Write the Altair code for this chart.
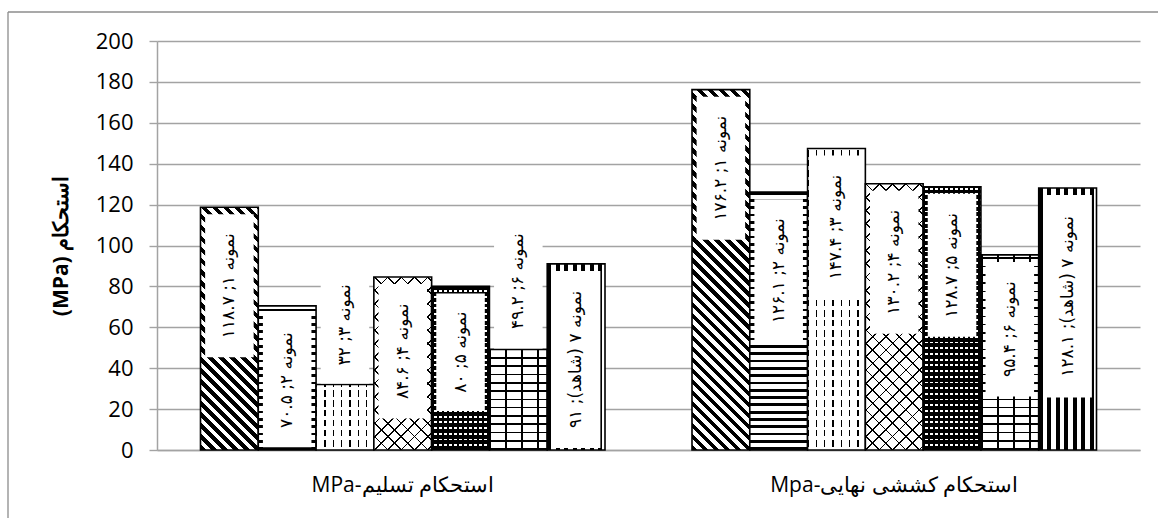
import math
import altair as alt
import pandas as pd

# ---------------- data ----------------
categories = ["استحکام تسلیم-MPa", "استحکام کششی نهایی-Mpa"]
series = ["نمونه ۱", "نمونه ۲", "نمونه ۳", "نمونه ۴", "نمونه ۵", "نمونه ۶", "نمونه ۷ (شاهد)"]
yield_values = [118.7, 70.5, 32, 84.6, 80, 49.2, 91]
ultimate_values = [176.2, 126.1, 147.4, 130.2, 128.7, 95.4, 128.1]
y_ticks = [0, 20, 40, 60, 80, 100, 120, 140, 160, 180, 200]
y_title = "استحکام (MPa)"

# ---------------- geometry / style ----------------
W, H = 983, 409
PAD = {"left": 157, "top": 41, "right": 18, "bottom": 68}
P_IN, P_OUT = 0.177, 0.0885
YMAX = 200
PXU = H / YMAX
STEP = W / (len(categories) - P_IN + 2 * P_OUT)
BAR_W = STEP * (1 - P_IN) / len(series)
GRID = "#a3a3a3"
RLE, PDF = "\u202b", "\u202c"
FA = str.maketrans("0123456789", "۰۱۲۳۴۵۶۷۸۹")


def fa(v):
    return f"{v:g}".translate(FA)


rows = []
for ci, cat in enumerate(categories):
    vals = [yield_values, ultimate_values][ci]
    for si, (s, v) in enumerate(zip(series, vals)):
        label = f"{s}; {fa(v)}"
        box_px = 8.5 * len(label) + 24
        vpx = v * PXU
        if vpx - 7 - box_px >= 0:
            hi = v - 7 / PXU
            lo = hi - box_px / PXU
        else:
            lo = v + 1 / PXU
            hi = lo + box_px / PXU
        rows.append(dict(cat=cat, series=s, sid=si, value=v, key=f"{ci}-{si}",
                         lo=lo, hi=hi, mid=(lo + hi) / 2,
                         disp=RLE + label + PDF, h=vpx))
df = pd.DataFrame(rows)

# pattern definitions per series: (kind, period px, on-fraction, on-colour)
PATTERNS = [
    [("d1", 7.8, 0.5, "black")],
    [("h", 7.3, 0.38, "black")],
    [("v", 8.3, 0.16, "black"), ("h", 10.0, 0.35, "white")],
    [("d1", 9.4, 0.13, "black"), ("d2", 9.4, 0.13, "black")],
    [("h", 5.7, 0.7, "black"), ("v", 5.0, 0.4, "black")],
    [("h", 8.3, 0.2, "black"), ("v", 16.0, 0.1, "black")],
    [("v", 8.5, 0.45, "black")],
]
CLEAR = "rgba(255,255,255,0)"


def stripe_stops(total, period, on, c_on, c_off):
    st = []
    pos = 0.0
    while pos < total - 1e-6:
        b = min(pos + on * period, total)
        c = min(pos + period, total)
        st += [(pos / total, c_on), (b / total, c_on)]
        if b < total:
            st += [(b / total, c_off), (c / total, c_off)]
        pos += period
    return [alt.GradientStop(offset=round(o, 5), color=col) for o, col in st]


def gradient(kind, period, on, c_on, c_off, w, h):
    if kind == "h":
        total, x1, y1, x2, y2 = h, 0, 1, 0, 0
    elif kind == "v":
        total, x1, y1, x2, y2 = w, 0, 0, 1, 0
    else:
        r = h / w
        t = (1 + r) / (1 + r * r)
        total = (w + h) / math.sqrt(2)
        if kind == "d1":
            x1, y1, x2, y2 = 0, 1, t, 1 - r * t
        else:
            x1, y1, x2, y2 = 0, 0, t, r * t
    return alt.LinearGradient(gradient="linear",
                              stops=stripe_stops(total, period, on, c_on, c_off),
                              x1=x1, y1=y1, x2=x2, y2=y2)


x_enc = alt.X("cat:N", sort=categories,
              scale=alt.Scale(paddingInner=P_IN, paddingOuter=P_OUT),
              axis=alt.Axis(title=None, ticks=False, domainColor=GRID, domainWidth=1.5,
                            labelAngle=0, labelFont="Open Sans", labelFontSize=21,
                            labelColor="black", labelPadding=24, labelLimit=600,
                            labelExpr=f"'{RLE}' + datum.label + '{PDF}'"))
xo_enc = alt.XOffset("sid:O", scale=alt.Scale(paddingInner=0, paddingOuter=0))
y_axis = alt.Axis(values=y_ticks, grid=True, gridColor=GRID, gridWidth=1.4,
                  domainColor=GRID, domainWidth=1.5, tickColor=GRID, tickWidth=1.4,
                  tickSize=8, labelFont="Open Sans", labelFontSize=22, labelColor="black",
                  labelPadding=16, title=RLE + y_title + PDF, titleFont="Open Sans",
                  titleFontSize=21, titleFontWeight="bold", titleColor="black",
                  titleX=-96, titleY=H / 2, titleAngle=270, titleAlign="center",
                  titleBaseline="middle", titleLimit=600)
y_scale = alt.Scale(domain=[0, YMAX], nice=False)

base = alt.Chart(df)
layers = []
for _, row in df.iterrows():
    pats = PATTERNS[row["sid"]]
    for pi, (kind, period, on, c_on) in enumerate(pats):
        last = pi == len(pats) - 1
        c_off = "white" if pi == 0 else CLEAR
        g = gradient(kind, period, on, c_on, c_off, BAR_W, row["h"])
        kw = dict(fill=g)
        if last:
            kw.update(stroke="black", strokeWidth=1.6)
        layers.append(
            base.transform_filter(alt.datum.key == row["key"])
            .mark_bar(**kw)
            .encode(x=x_enc, xOffset=xo_enc,
                    y=alt.Y("value:Q", scale=y_scale, axis=y_axis))
        )

boxes = base.mark_bar(fill="white", width=round(BAR_W * 0.84, 2)).encode(
    x=x_enc, xOffset=xo_enc,
    y=alt.Y("lo:Q", scale=y_scale, axis=y_axis), y2="hi:Q")

texts = base.mark_text(angle=270, font="DejaVu Sans", fontSize=17, color="black",
                       align="center", baseline="middle").encode(
    x=x_enc, xOffset=xo_enc,
    y=alt.Y("mid:Q", scale=y_scale, axis=y_axis), text="disp:N")

frame_src = alt.Chart(pd.DataFrame({"k": [0]}))
frame_left = frame_src.mark_rule(color="#8c8c8c", strokeWidth=1.3).encode(
    x=alt.value(-149), y=alt.value(-29), y2=alt.value(H + PAD["bottom"]))
frame_top = frame_src.mark_rule(color="#8c8c8c", strokeWidth=1.3).encode(
    x=alt.value(-149), x2=alt.value(W + PAD["right"]), y=alt.value(-29))

chart = alt.layer(*layers, boxes, texts, frame_left, frame_top).properties(
    width=W, height=H, padding=PAD, autosize="none", background="white"
).configure_view(stroke=None)

chart.save("out.html", embed_options={"renderer": "svg", "actions": False})
